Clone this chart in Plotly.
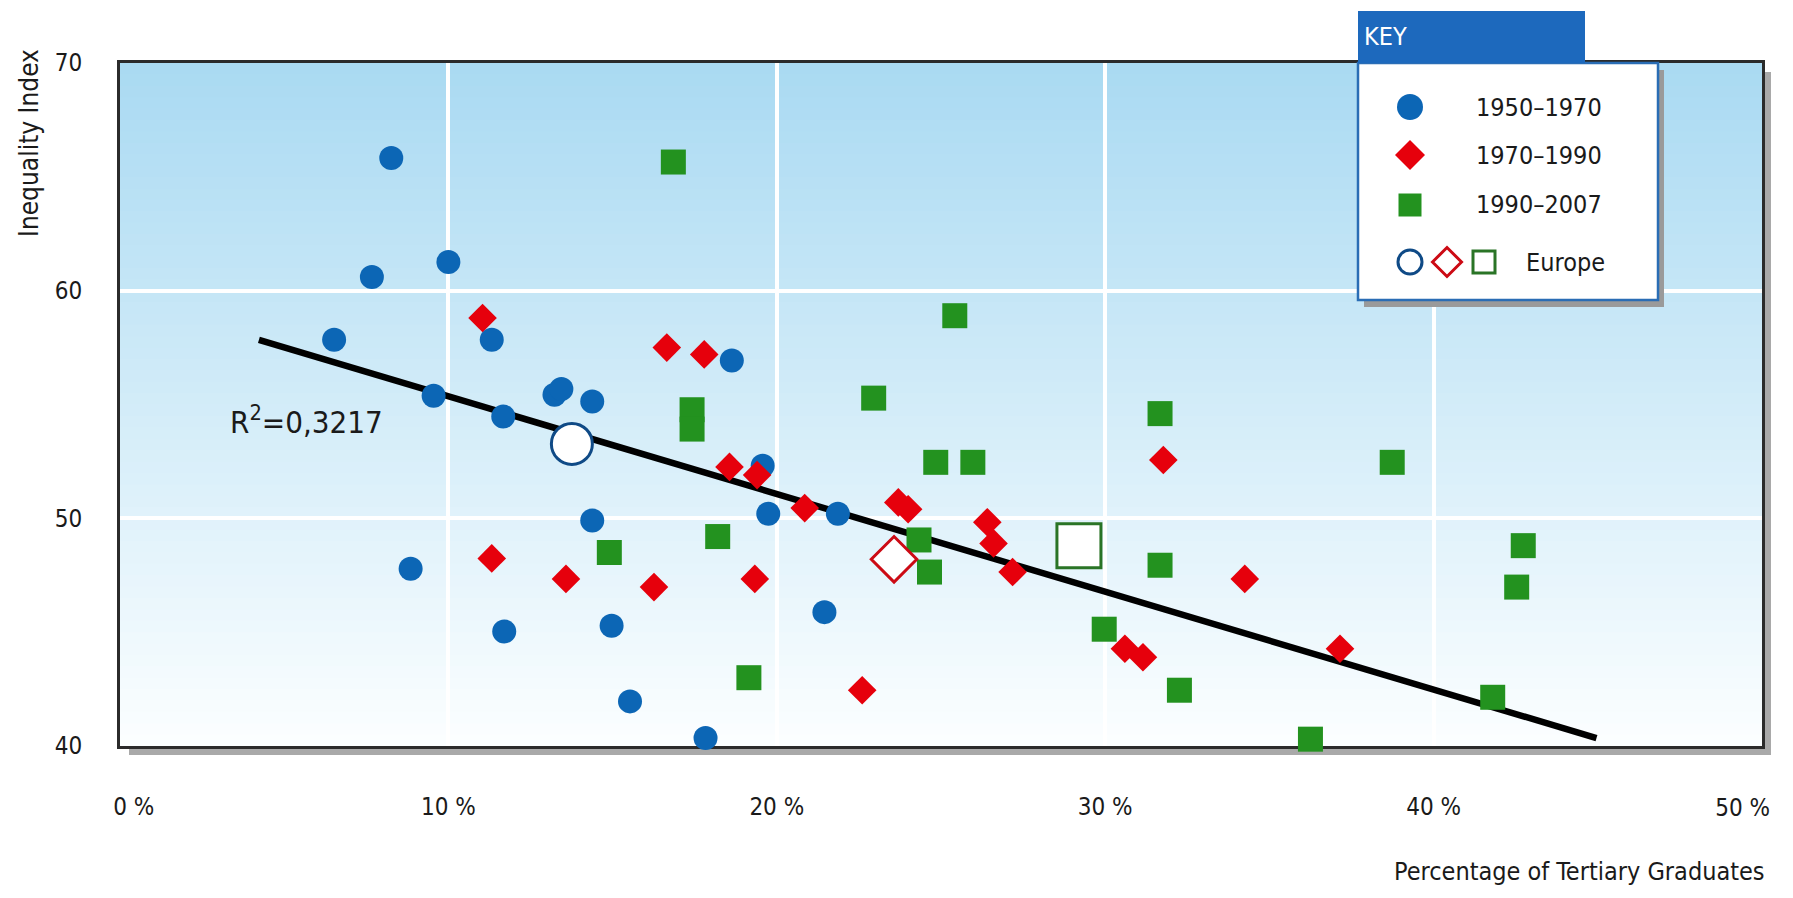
import plotly.graph_objects as go

# ---------------- data ----------------
blue_x = [8.26, 7.67, 10.0, 6.52, 11.32, 9.55, 11.67, 13.23, 13.44, 14.38, 18.63,
          19.57, 19.74, 21.86, 14.38, 8.85, 11.7, 14.97, 21.45, 15.53, 17.83]
blue_y = [65.83, 60.6, 61.26, 57.84, 57.84, 55.38, 54.47, 55.43, 55.68, 55.13, 56.93,
          52.31, 50.2, 50.2, 49.9, 47.79, 45.03, 45.28, 45.88, 41.96, 40.35]

red_x = [11.04, 11.32, 13.58, 16.26, 16.65, 17.79, 18.56, 19.4, 19.33, 20.85, 22.6,
         23.7, 24.0, 26.41, 26.6, 27.18, 30.6, 31.15, 31.77, 34.25, 37.15]
red_y = [58.8, 48.24, 47.34, 46.98, 57.5, 57.2, 52.26, 51.9, 47.34, 50.45, 42.45,
         50.7, 50.4, 49.83, 48.9, 47.64, 44.27, 43.9, 52.56, 47.34, 44.27]

green_x = [16.85, 17.42, 17.42, 14.9, 18.2, 19.15, 22.95, 24.33, 24.65, 24.84, 25.97,
           25.42, 29.97, 31.67, 31.67, 32.26, 36.25, 38.74, 41.8, 42.53, 42.73]
green_y = [65.65, 54.77, 53.92, 48.5, 49.2, 43.0, 55.28, 49.05, 47.64, 52.46, 52.46,
           58.9, 45.13, 54.6, 47.94, 42.45, 40.3, 52.46, 42.14, 46.98, 48.8]

europe_x = [13.76, 23.57, 29.2]
europe_y = [53.27, 48.2, 48.8]

trend_x = [4.23, 44.96]
trend_y = [57.84, 40.35]

x_ticks = [0, 10, 20, 30, 40, 50]
x_tick_labels = ["0 %", "10 %", "20 %", "30 %", "40 %", "50 %"]
y_ticks = [40, 50, 60, 70]

legend_labels = ["1950–1970", "1970–1990", "1990–2007", "Europe"]
r2_text = "R<sup>2</sup>=0,3217"

# ---------------- style ----------------
# the page body adds an 8px margin, so the figure is drawn 16px smaller
OFF = 8
W, H = 1793 - 2 * OFF, 898 - 2 * OFF
# plot area in window coordinates
X0, X1, Y0, Y1 = 120, 1762, 63, 746
PW, PH = X1 - X0, Y1 - Y0
L, T = X0 - OFF, Y0 - OFF
R, B = W - (X1 - OFF), H - (Y1 - OFF)
FONT = "DejaVu Sans Condensed, Liberation Sans Narrow, Arial Narrow, sans-serif"
BLUE, RED, GREEN = "#0c66b5", "#e6000c", "#23921f"
TXT = "#1a1a1a"
NB = "\u00a0" * 4
# the first label sits slightly inwards in the original layout
main_tick_vals = x_ticks[:-1]
main_tick_text = [NB + x_tick_labels[0]] + x_tick_labels[1:-1]


def px(xp):
    return (xp - X0) / PW


def py(yp):
    return 1 - (yp - Y0) / PH


fig = go.Figure()

fig.add_trace(go.Scatter(x=trend_x, y=trend_y, mode="lines",
                         line=dict(color="black", width=6.5), hoverinfo="skip"))
fig.add_trace(go.Scatter(x=blue_x, y=blue_y, mode="markers", name=legend_labels[0],
                         marker=dict(symbol="circle", size=24, color=BLUE, opacity=1,
                                     line=dict(width=0)),
                         cliponaxis=False))
fig.add_trace(go.Scatter(x=red_x, y=red_y, mode="markers", name=legend_labels[1],
                         marker=dict(symbol="diamond", size=22, color=RED, opacity=1,
                                     line=dict(width=0)),
                         cliponaxis=False))
fig.add_trace(go.Scatter(x=green_x, y=green_y, mode="markers", name=legend_labels[2],
                         marker=dict(symbol="square", size=25, color=GREEN, opacity=1,
                                     line=dict(width=0)),
                         cliponaxis=False))
# Europe drawn on the overlaid x-axis (identical range), which also carries the "50 %" label
fig.add_trace(go.Scatter(x=europe_x, y=europe_y, mode="markers", name=legend_labels[3],
                         xaxis="x2", yaxis="y",
                         marker=dict(symbol=["circle", "diamond", "square"], size=[41, 35, 44],
                                     color="white", opacity=1,
                                     line=dict(color=["#0f4a86", "#cc0a14", "#2a7426"], width=3)),
                         cliponaxis=False))

shapes = []
# frame shadow
shapes.append(dict(type="rect", xref="paper", yref="paper", layer="below",
                   x0=px(X0 + 9), x1=px(X1 + 9), y0=py(Y1 + 9), y1=py(Y0 + 9),
                   fillcolor="#a9a9a9", line=dict(width=0)))
# gradient background (overlapping bands, no seams)
N = 60
top = (170, 218, 242)
bot = (251, 254, 255)
for i in range(N):
    t = i / (N - 1)
    c = "rgb(%d,%d,%d)" % tuple(int(round(top[k] + (bot[k] - top[k]) * t)) for k in range(3))
    shapes.append(dict(type="rect", xref="paper", yref="paper", layer="below",
                       x0=0, x1=1, y0=max(0.0, 1 - (i + 2) / N), y1=1 - i / N,
                       fillcolor=c, line=dict(color=c, width=0)))

# ---------- key box ----------
bx0, bx1, by0, by1 = 1358, 1658, 63, 300
shapes.append(dict(type="rect", xref="paper", yref="paper", layer="above",
                   x0=px(bx0 + 6), x1=px(bx1 + 6), y0=py(by1 + 7), y1=py(by0 + 7),
                   fillcolor="#9a9a9a", line=dict(width=0)))
shapes.append(dict(type="rect", xref="paper", yref="paper", layer="above",
                   x0=px(bx0), x1=px(bx1), y0=py(by1), y1=py(by0),
                   fillcolor="white", line=dict(color="#2a6db5", width=2.5)))
shapes.append(dict(type="rect", xref="paper", yref="paper", layer="above",
                   x0=px(bx0), x1=px(1585), y0=py(by0), y1=py(11),
                   fillcolor="#1d69bd", line=dict(width=0)))


def swatch(kind, cx, cy, s, fill, line_col, lw):
    base = dict(xref="paper", yref="paper", layer="above",
                xsizemode="pixel", ysizemode="pixel", xanchor=px(cx), yanchor=py(cy),
                fillcolor=fill, line=dict(color=line_col, width=lw))
    if kind in ("circle", "square"):
        base.update(type="circle" if kind == "circle" else "rect",
                    x0=-s / 2, x1=s / 2, y0=-s / 2, y1=s / 2)
        return base
    h = s / 2
    base.update(type="path", path="M %f,0 L 0,%f L %f,0 L 0,%f Z" % (-h, h, h, -h))
    return base


rows = [107, 155, 205, 262]
shapes.append(swatch("circle", 1410, rows[0], 26, BLUE, BLUE, 0))
shapes.append(swatch("diamond", 1410, rows[1], 30, RED, RED, 0))
shapes.append(swatch("square", 1410, rows[2], 23, GREEN, GREEN, 0))
shapes.append(swatch("circle", 1410, rows[3], 24, "white", "#0f4a86", 3))
shapes.append(swatch("diamond", 1447, rows[3], 29, "white", "#cc0a14", 3))
shapes.append(swatch("square", 1484, rows[3], 22, "white", "#2a7426", 3))

annotations = []
annotations.append(dict(text="KEY", xref="paper", yref="paper", x=px(1362), y=py(37),
                        xanchor="left", yanchor="middle", showarrow=False,
                        font=dict(family=FONT, size=25, color="white")))
for lab, yy in zip(legend_labels[:3], rows[:3]):
    annotations.append(dict(text=lab, xref="paper", yref="paper", x=px(1474), y=py(yy),
                            xanchor="left", yanchor="middle", showarrow=False,
                            font=dict(family=FONT, size=25, color=TXT)))
annotations.append(dict(text=legend_labels[3], xref="paper", yref="paper", x=px(1524), y=py(rows[3]),
                        xanchor="left", yanchor="middle", showarrow=False,
                        font=dict(family=FONT, size=25, color=TXT)))

# R^2 label
annotations.append(dict(text=r2_text, xref="x", yref="y", x=3.3, y=54.3,
                        xanchor="left", yanchor="middle", showarrow=False,
                        font=dict(family=FONT, size=31, color=TXT)))
# axis titles
annotations.append(dict(text="Inequality Index", xref="paper", yref="paper",
                        x=px(29), y=py(143), xanchor="center", yanchor="middle",
                        textangle=-90, showarrow=False,
                        font=dict(family=FONT, size=26, color=TXT)))
annotations.append(dict(text="Percentage of Tertiary Graduates", xref="paper", yref="paper",
                        x=px(1767), y=py(871), xanchor="right", yanchor="middle",
                        showarrow=False, font=dict(family=FONT, size=25, color=TXT)))

fig.update_layout(
    width=W, height=H,
    margin=dict(l=L, r=R, t=T, b=B, pad=0, autoexpand=False),
    paper_bgcolor="white", plot_bgcolor="white",
    showlegend=False,
    shapes=shapes, annotations=annotations,
    font=dict(family=FONT, size=24, color=TXT),
    xaxis=dict(range=[0, 50], tickvals=main_tick_vals, ticktext=main_tick_text,
               showgrid=True, gridcolor="white", gridwidth=3.5, zeroline=False,
               showline=True, mirror=True, linecolor="#2b2b2b", linewidth=3,
               ticks="", ticklabelstandoff=37, layer="below traces",
               ticklabeloverflow="allow",
               tickfont=dict(family=FONT, size=24, color=TXT)),
    xaxis2=dict(range=[0, 50], overlaying="x", anchor="y", side="bottom",
                tickvals=x_ticks[-1:], ticktext=x_tick_labels[-1:],
                showgrid=False, zeroline=False, showline=False, ticks="",
                ticklabelposition="outside left", ticklabelshift=8,
                ticklabelstandoff=45, ticklabeloverflow="allow",
                tickfont=dict(family=FONT, size=24, color=TXT)),
    yaxis=dict(range=[40, 70], tickvals=y_ticks,
               showgrid=True, gridcolor="white", gridwidth=3.5, zeroline=False,
               showline=True, mirror=True, linecolor="#2b2b2b", linewidth=3,
               ticks="", ticklabelstandoff=30, layer="below traces",
               tickfont=dict(family=FONT, size=24, color=TXT)),
)

fig.write_html("out.html")
